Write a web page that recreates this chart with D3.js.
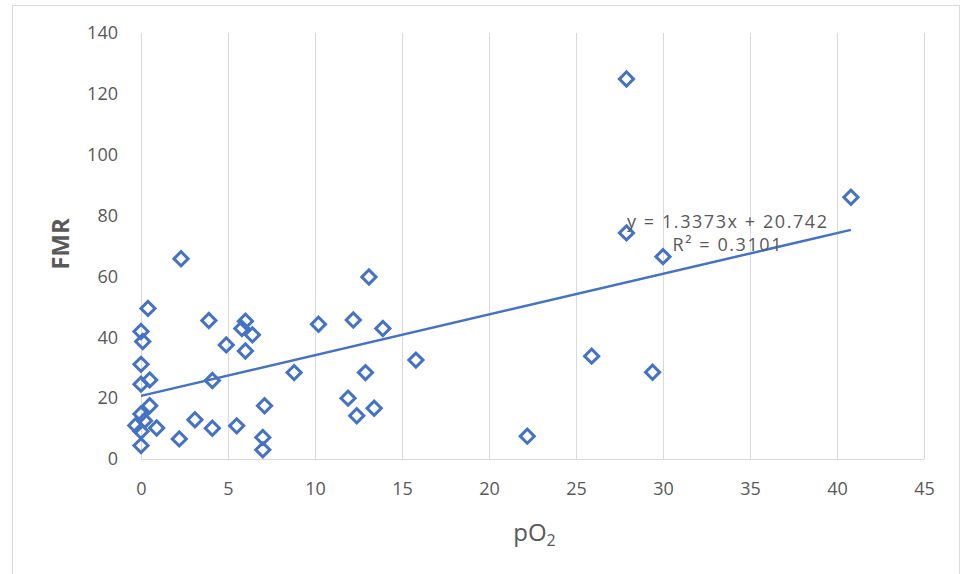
<!DOCTYPE html>
<html>
<head>
<meta charset="utf-8">
<script src="https://cdn.jsdelivr.net/npm/d3@7"></script>
<style>
  body { margin: 0; background: #fff; }
  text { font-family: "Open Sans", "Liberation Sans", sans-serif; fill: #595959; }
</style>
</head>
<body>
<div class="container"></div>
<script>
// data: pO2 (x) and FMR (y)
var po2 = [27.9, 40.8, 27.9, 30.0, 25.9, 29.4, 22.2, 15.8, 13.1, 13.9,
           12.2, 10.2, 8.8, 12.9, 11.9, 13.4, 12.4, 2.3, 3.9, 6.0,
           5.8, 6.4, 4.9, 6.0, 4.1, 7.1, 3.1, 4.1, 5.5, 2.2,
           7.0, 7.0, 0.4, 0.0, 0.1, 0.0, 0.0, 0.5, 0.5, 0.0,
           0.2, -0.3, 0.0, 0.9, 0.0];
var fmr = [124.9, 86.0, 74.3, 66.5, 33.8, 28.5, 7.5, 32.5, 59.8, 42.9,
           45.7, 44.3, 28.4, 28.4, 20.0, 16.7, 14.2, 65.8, 45.5, 45.3,
           42.9, 40.8, 37.5, 35.5, 25.8, 17.5, 12.9, 10.1, 10.9, 6.6,
           7.1, 3.0, 49.5, 41.9, 38.6, 31.1, 24.6, 26.0, 17.5, 14.8,
           12.6, 11.0, 9.1, 10.2, 4.4];
var xTicks = [0, 5, 10, 15, 20, 25, 30, 35, 40, 45];
var yTicks = [0, 20, 40, 60, 80, 100, 120, 140];
var slope = 1.3373;
var intercept = 20.742;
var eqText = "y = 1.3373x + 20.742";
var r2Text = "R² = 0.3101";

var width = 964, height = 574;
var margin = {top: 33, right: 40, bottom: 114, left: 141};
var blue = "#4472c4";
var grid = "#d9d9d9";

var xScale = d3.scaleLinear().domain([0, 45]).range([margin.left, width - margin.right]);
var yScale = d3.scaleLinear().domain([0, 140]).range([height - margin.bottom - 1, margin.top]);

var svg = d3.select(".container")
  .append("svg")
  .attr("width", width).attr("height", height);

// outer chart border
svg.append("rect")
  .attr("x", 12.5).attr("y", 5.5)
  .attr("width", 947).attr("height", 580)
  .attr("fill", "none").attr("stroke", grid);

// vertical gridlines
svg.append("g").selectAll("line")
  .data(xTicks)
  .enter().append("line")
  .attr("x1", d => Math.round(xScale(d)) + 0.5)
  .attr("x2", d => Math.round(xScale(d)) + 0.5)
  .attr("y1", yScale(140))
  .attr("y2", yScale(0))
  .attr("stroke", grid);

// bottom axis line
svg.append("line")
  .attr("x1", xScale(0)).attr("x2", xScale(45))
  .attr("y1", Math.round(yScale(0)) + 0.5).attr("y2", Math.round(yScale(0)) + 0.5)
  .attr("stroke", grid);

var xAxis = d3.axisBottom(xScale).tickValues(xTicks).tickSize(0).tickPadding(23);
var yAxis = d3.axisLeft(yScale).tickValues(yTicks).tickSize(0).tickPadding(23);

svg.append("g").attr("id", "x-axis")
  .attr("transform", "translate(0," + yScale(0) + ")")
  .call(xAxis)
  .call(g => g.select(".domain").remove());
svg.append("g").attr("id", "y-axis")
  .attr("transform", "translate(" + margin.left + ",0)")
  .call(yAxis)
  .call(g => g.select(".domain").remove());
svg.selectAll(".tick text")
  .attr("font-family", "Open Sans")
  .attr("font-size", 18)
  .attr("fill", "#595959");

// trendline over the range of the data
var xMin = d3.min(po2.map(d => Math.max(d, 0))), xMax = d3.max(po2);
svg.append("line")
  .attr("x1", xScale(xMin)).attr("y1", yScale(slope * xMin + intercept))
  .attr("x2", xScale(xMax)).attr("y2", yScale(slope * xMax + intercept))
  .attr("stroke", blue).attr("stroke-width", 2.5);

// markers
var diamond = d3.symbol().type(d3.symbolSquare).size(100);
svg.append("g").selectAll("path")
  .data(po2.map((d, i) => ({x: d, y: fmr[i]})))
  .enter().append("path")
  .attr("d", diamond)
  .attr("transform", d => "translate(" + xScale(d.x) + "," + yScale(d.y) + ") rotate(45)")
  .attr("fill", "none")
  .attr("stroke", blue)
  .attr("stroke-width", 3);

// equation label
svg.append("text")
  .attr("x", 727).attr("y", 228)
  .attr("text-anchor", "middle")
  .attr("font-size", 18)
  .attr("textLength", 200)
  .text(eqText);
svg.append("text")
  .attr("x", 727).attr("y", 251)
  .attr("text-anchor", "middle")
  .attr("font-size", 18)
  .attr("textLength", 109)
  .text(r2Text);

// axis titles
var xt = svg.append("text")
  .attr("x", xScale(22.5) + 2).attr("y", 541)
  .attr("text-anchor", "middle")
  .attr("font-size", 24);
xt.append("tspan").text("pO");
xt.append("tspan").attr("font-size", 16).attr("dy", 5).text("2");

svg.append("text")
  .attr("transform", "translate(69," + 244 + ") rotate(-90)")
  .attr("text-anchor", "middle")
  .attr("font-size", 24)
  .attr("font-weight", "bold")
  .text("FMR");
</script>
</body>
</html>
